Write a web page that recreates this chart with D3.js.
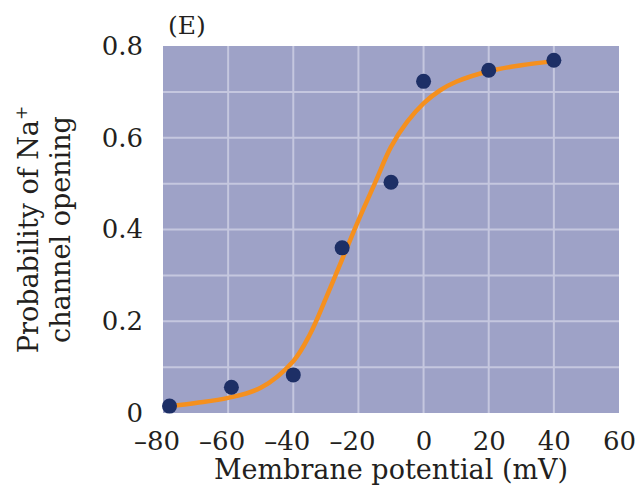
<!DOCTYPE html>
<html>
<head>
<meta charset="utf-8">
<script src="https://cdn.jsdelivr.net/npm/d3@7"></script>
<style>
  body { margin: 0; background: #fff; }
  text { font-family: "DejaVu Serif", "Liberation Serif", serif; fill: #231f20; }
</style>
</head>
<body>
<div id="chart"></div>
<script>
// measured points (membrane potential in mV, probability)
var voltage = [-78, -59, -40, -25, -10, 0, 20, 40];
var probability = [0.015, 0.056, 0.083, 0.36, 0.503, 0.723, 0.747, 0.769];

// fitted curve
var fitVoltage = [-78, -70, -60, -50, -40, -35, -30, -25, -20, -15, -10, -5, 0, 5, 10, 20, 30, 40];
var fitProb = [0.015, 0.022, 0.033, 0.055, 0.113, 0.17, 0.25, 0.335, 0.42, 0.5, 0.58, 0.635, 0.675, 0.703, 0.722, 0.745, 0.758, 0.767];

var xTicks = [-80, -60, -40, -20, 0, 20, 40, 60];
var yTicks = [0, 0.2, 0.4, 0.6, 0.8];
var yGrid = [0.1, 0.2, 0.3, 0.4, 0.5, 0.6, 0.7];

var W = 636, H = 499;
var margin = {top: 46, right: 17, bottom: 86, left: 163};
var TICK_FS = 26, TITLE_FS = 27;

var svg = d3.select("#chart")
  .append("svg")
    .attr("width", W)
    .attr("height", H);

var x = d3.scaleLinear().domain([-80, 60]).range([margin.left, W - margin.right]);
var y = d3.scaleLinear().domain([0, 0.8]).range([H - margin.bottom, margin.top]);

// plot background
svg.append("rect")
  .attr("x", x(-80))
  .attr("y", y(0.8))
  .attr("width", x(60) - x(-80))
  .attr("height", y(0) - y(0.8))
  .attr("fill", "#9ea2c7");

// grid lines
svg.append("g")
  .selectAll("line.vx")
  .data(xTicks.slice(1, -1))
  .enter().append("line")
    .attr("x1", function(d) { return x(d); })
    .attr("x2", function(d) { return x(d); })
    .attr("y1", y(0.8))
    .attr("y2", y(0))
    .attr("stroke", "#c5c7df")
    .attr("stroke-width", 2);

svg.append("g")
  .selectAll("line.hy")
  .data(yGrid)
  .enter().append("line")
    .attr("x1", x(-80))
    .attr("x2", x(60))
    .attr("y1", function(d) { return y(d); })
    .attr("y2", function(d) { return y(d); })
    .attr("stroke", "#c5c7df")
    .attr("stroke-width", 2);

// axes (labels only, no domain lines)
var xAxis = d3.axisBottom(x)
  .tickValues(xTicks)
  .tickSize(0)
  .tickPadding(19)
  .tickFormat(function(d) { return d < 0 ? "\u2013" + Math.abs(d) : d; });

var gx = svg.append("g")
  .attr("transform", "translate(0," + y(0) + ")")
  .call(xAxis);
gx.select(".domain").remove();
gx.selectAll("text")
  .attr("font-size", TICK_FS)
  .attr("font-family", null)
  .attr("dx", function(d) { return d < 0 ? -6.5 : 0; });

var yAxis = d3.axisLeft(y)
  .tickValues(yTicks)
  .tickSize(0)
  .tickPadding(20)
  .tickFormat(function(d) { return d === 0 ? "0" : d3.format(".1f")(d); });

var gy = svg.append("g")
  .attr("transform", "translate(" + x(-80) + ",0)")
  .call(yAxis);
gy.select(".domain").remove();
gy.selectAll("text")
  .attr("font-size", TICK_FS)
  .attr("font-family", null);

// fitted curve
var line = d3.line()
  .x(function(d, i) { return x(fitVoltage[i]); })
  .y(function(d, i) { return y(fitProb[i]); })
  .curve(d3.curveCatmullRom);

svg.append("path")
  .datum(fitProb)
  .attr("d", line)
  .attr("fill", "none")
  .attr("stroke", "#f5901e")
  .attr("stroke-width", 4.5);

// data points
svg.append("g")
  .selectAll("circle")
  .data(probability)
  .enter().append("circle")
    .attr("cx", function(d, i) { return x(voltage[i]); })
    .attr("cy", function(d) { return y(d); })
    .attr("r", 7.5)
    .attr("fill", "#1d2f66");

// titles
svg.append("text")
  .attr("x", 168)
  .attr("y", 34)
  .attr("font-size", 25)
  .text("(E)");

svg.append("text")
  .attr("x", (x(-80) + x(60)) / 2)
  .attr("y", 479)
  .attr("text-anchor", "middle")
  .attr("font-size", TITLE_FS)
  .text("Membrane potential (mV)");

var ytitle = svg.append("g")
  .attr("transform", "translate(0," + ((y(0) + y(0.8)) / 2) + ") rotate(-90)");

var l1 = ytitle.append("text")
  .attr("x", 0)
  .attr("y", 38)
  .attr("text-anchor", "middle")
  .attr("font-size", TITLE_FS);
l1.append("tspan").text("Probability of Na");
l1.append("tspan").attr("dy", -11).attr("font-size", 17).text("+");

ytitle.append("text")
  .attr("x", 0)
  .attr("y", 70)
  .attr("text-anchor", "middle")
  .attr("font-size", TITLE_FS)
  .text("channel opening");
</script>
</body>
</html>
